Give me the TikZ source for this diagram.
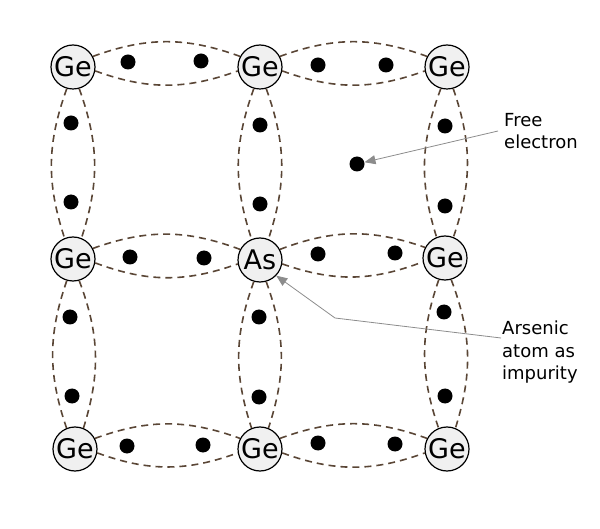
\documentclass[tikz,border=0pt]{standalone}
\usepackage{fontspec}
\setmainfont{DejaVu Sans}
\usetikzlibrary{arrows.meta}
\definecolor{bond}{HTML}{5A4636}
\definecolor{atomfill}{HTML}{F0F0F0}
\definecolor{pointer}{HTML}{8C8C8C}
\tikzset{
  atom/.style={circle,draw=black,line width=1.2pt,fill=atomfill,minimum size=44pt,inner sep=0pt,font=\fontsize{27}{27}\selectfont},
  electron/.style={circle,fill=black,minimum size=15pt,inner sep=0pt},
  bondline/.style={draw=bond,line width=1.6pt,dash pattern=on 7pt off 5pt},
  label/.style={align=left,anchor=north west,inner sep=0pt,font=\fontsize{18}{22.4}\selectfont},
  pointerline/.style={draw=pointer,line width=0.8pt,-{Triangle[length=11pt,width=9pt]}}
}
\newcommand{\hbond}[2]{%
  \draw[bondline] (#1.28) to[bend left=20] (#2.152);
  \draw[bondline] (#1.-10) to[bend right=20] (#2.-170);}
\newcommand{\vbond}[2]{%
  \draw[bondline] (#1.-106) to[bend right=19] (#2.112);
  \draw[bondline] (#1.-74) to[bend left=19] (#2.68);}
\begin{document}
\begin{tikzpicture}[x=1pt,y=-1pt]
\useasboundingbox (0,0) rectangle (600,529);
\node[atom] (a11) at (73,67) {Ge};
\node[atom] (a12) at (260,67) {Ge};
\node[atom] (a13) at (447,67) {Ge};
\node[atom] (a21) at (73,259) {Ge};
\node[atom] (a22) at (260,260) {As};
\node[atom] (a23) at (445,258) {Ge};
\node[atom] (a31) at (75,449) {Ge};
\node[atom] (a32) at (260,449) {Ge};
\node[atom] (a33) at (447,449) {Ge};
\hbond{a11}{a12}\hbond{a12}{a13}
\hbond{a21}{a22}\hbond{a22}{a23}
\hbond{a31}{a32}\hbond{a32}{a33}
\vbond{a11}{a21}\vbond{a12}{a22}\vbond{a13}{a23}
\vbond{a21}{a31}\vbond{a22}{a32}\vbond{a23}{a33}
\foreach \n/\x/\y in {e1/128/62,e2/201/61,e3/318/65,e4/386/65,e5/71/123,e6/71/202,e7/260/125,e8/260/204,e9/445/126,e10/445/206,e11/130/257,e12/204/258,e13/318/254,e14/395/253,e15/70/317,e16/72/396,e17/259/317,e18/259/397,e19/444/312,e20/445/396,e21/127/446,e22/203/445,e23/318/443,e24/395/444}
  \node[electron] (\n) at (\x,\y) {};
\node[electron] (free) at (357,164) {};
\node[label] (freelabel) at (504,113) {Free\\electron};
\node[label] (aslabel) at (502,321) {Arsenic\\atom as\\impurity};
\coordinate (fstart) at (498,131);
\coordinate (astart) at (501,338);
\coordinate (abend) at (335,318);
\draw[pointerline] (fstart) -- (free);
\draw[pointerline] (astart) -- (abend) -- (a22.-44);
\end{tikzpicture}
\end{document}
